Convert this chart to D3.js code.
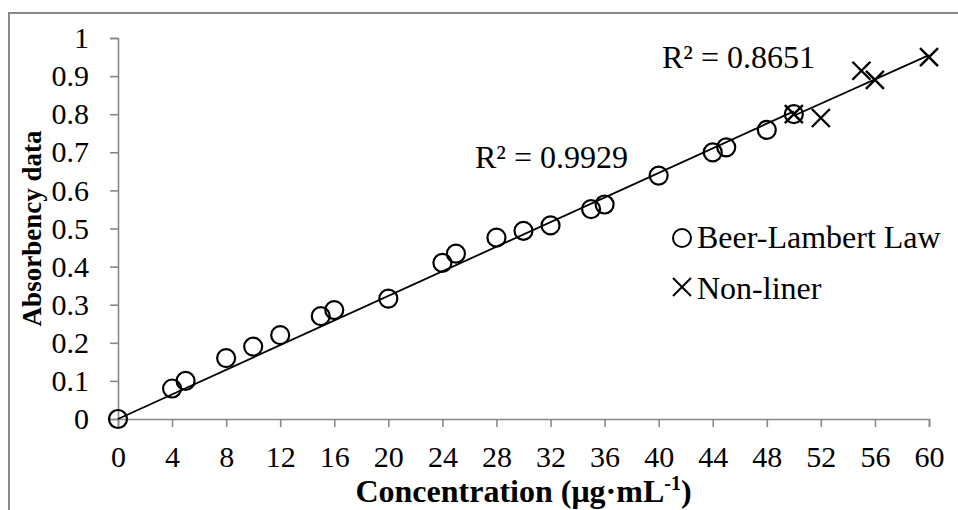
<!DOCTYPE html>
<html>
<head>
<meta charset="utf-8">
<script src="https://cdn.jsdelivr.net/npm/d3@7"></script>
<style>
  body { margin: 0; background: #fff; }
  svg { display: block; }
  text { font-family: "Liberation Serif", "Times New Roman", serif; fill: #000; }
</style>
</head>
<body>
<svg id="viz" width="958" height="510"></svg>
<script>
// Beer-Lambert (linear) points
var linConc = [0, 4, 5, 8, 10, 12, 15, 16, 20, 24, 25, 28, 30, 32, 35, 36, 40, 44, 45, 48, 50];
var linAbs  = [0, 0.08, 0.10, 0.16, 0.19, 0.22, 0.27, 0.286, 0.316, 0.41, 0.434, 0.476, 0.494, 0.508, 0.551, 0.563, 0.639, 0.70, 0.713, 0.759, 0.80];
// non-linear points
var nonConc = [50, 52, 55, 56, 60];
var nonAbs  = [0.80, 0.79, 0.914, 0.89, 0.95];

var xTicks = [0, 4, 8, 12, 16, 20, 24, 28, 32, 36, 40, 44, 48, 52, 56, 60];
var yTicks = [0, 0.1, 0.2, 0.3, 0.4, 0.5, 0.6, 0.7, 0.8, 0.9, 1];
var r2Labels = ["R² = 0.9929", "R² = 0.8651"];
var legendNames = ["Beer-Lambert Law", "Non-liner"];

var svg = d3.select("#viz");

var x = d3.scaleLinear().domain([0, 60]).range([118, 929]);
var y = d3.scaleLinear().domain([0, 1]).range([419, 38]);

// outer chart border (right & bottom are cut off in the original)
svg.append("path")
    .attr("d", "M9,510 V13 H958")
    .attr("fill", "none")
    .attr("stroke", "#898989")
    .attr("stroke-width", 2);

// axes
var yAxis = svg.append("g")
    .attr("transform", "translate(" + x(0) + ",0)")
    .call(d3.axisLeft(y).tickValues(yTicks).tickSize(8).tickPadding(21)
        .tickFormat(d3.format("~g")));
var xAxis = svg.append("g")
    .attr("transform", "translate(0," + y(0) + ")")
    .call(d3.axisBottom(x).tickValues(xTicks).tickSize(8).tickPadding(19));

[xAxis, yAxis].forEach(function(a) {
    a.select(".domain").attr("stroke", "#898989").attr("stroke-width", 1.6);
    a.selectAll(".tick line").attr("stroke", "#898989").attr("stroke-width", 1.6);
    a.selectAll(".tick text")
        .style("font-family", "'Liberation Serif', serif")
        .style("font-size", "30px").attr("fill", "#000");
});

// trendline forced through the origin, drawn over the series' x range
function fit(xs, ys) {
    var b = d3.sum(xs, (v, i) => v * ys[i]) / d3.sum(xs, v => v * v);
    var x0 = d3.min(xs), x1 = d3.max(xs);
    return [[x0, b * x0], [x1, b * x1]];
}

var line = d3.line().x(d => x(d[0])).y(d => y(d[1]));
svg.append("path").attr("d", line(fit(linConc, linAbs)))
    .attr("fill", "none").attr("stroke", "#000").attr("stroke-width", 1.8);
svg.append("path").attr("d", line(fit(nonConc, nonAbs)))
    .attr("fill", "none").attr("stroke", "#000").attr("stroke-width", 1.8);

// circles
svg.append("g").selectAll("circle")
    .data(linConc.map((c, i) => [c, linAbs[i]]))
    .enter().append("circle")
    .attr("cx", d => x(d[0]))
    .attr("cy", d => y(d[1]))
    .attr("r", 9)
    .attr("fill", "none")
    .attr("stroke", "#000")
    .attr("stroke-width", 2.2);

// crosses
svg.append("g").selectAll("path")
    .data(nonConc.map((c, i) => [c, nonAbs[i]]))
    .enter().append("path")
    .attr("transform", d => "translate(" + x(d[0]) + "," + y(d[1]) + ")")
    .attr("d", "M-9,-9L9,9M-9,9L9,-9")
    .attr("stroke", "#000")
    .attr("stroke-width", 2.4);

// R² labels
svg.append("text").attr("x", 475).attr("y", 168).style("font-size", "32px").text(r2Labels[0]);
svg.append("text").attr("x", 662).attr("y", 68).style("font-size", "32px").text(r2Labels[1]);

// legend
var lg = svg.append("g");
lg.append("circle").attr("cx", 682).attr("cy", 238).attr("r", 9)
    .attr("fill", "none").attr("stroke", "#000").attr("stroke-width", 2);
lg.append("path").attr("transform", "translate(682,287)")
    .attr("d", "M-9,-9L9,9M-9,9L9,-9").attr("stroke", "#000").attr("stroke-width", 2);
lg.append("text").attr("x", 697).attr("y", 248).style("font-size", "32px").text(legendNames[0]);
lg.append("text").attr("x", 697).attr("y", 299).style("font-size", "32px").text(legendNames[1]);

// axis titles
var xt = svg.append("text")
    .attr("x", (x(0) + x(60)) / 2).attr("y", 502)
    .attr("text-anchor", "middle")
    .style("font-size", "32px").style("font-weight", "bold");
xt.append("tspan").text("Concentration (μg·mL");
xt.append("tspan").attr("dy", -12).style("font-size", "20px").text("-1");
xt.append("tspan").attr("dy", 12).text(")");

svg.append("text")
    .attr("transform", "translate(41," + (y(0) + y(1)) / 2 + ") rotate(-90)")
    .attr("text-anchor", "middle")
    .style("font-size", "27px").style("font-weight", "bold")
    .text("Absorbency data");
</script>
</body>
</html>
